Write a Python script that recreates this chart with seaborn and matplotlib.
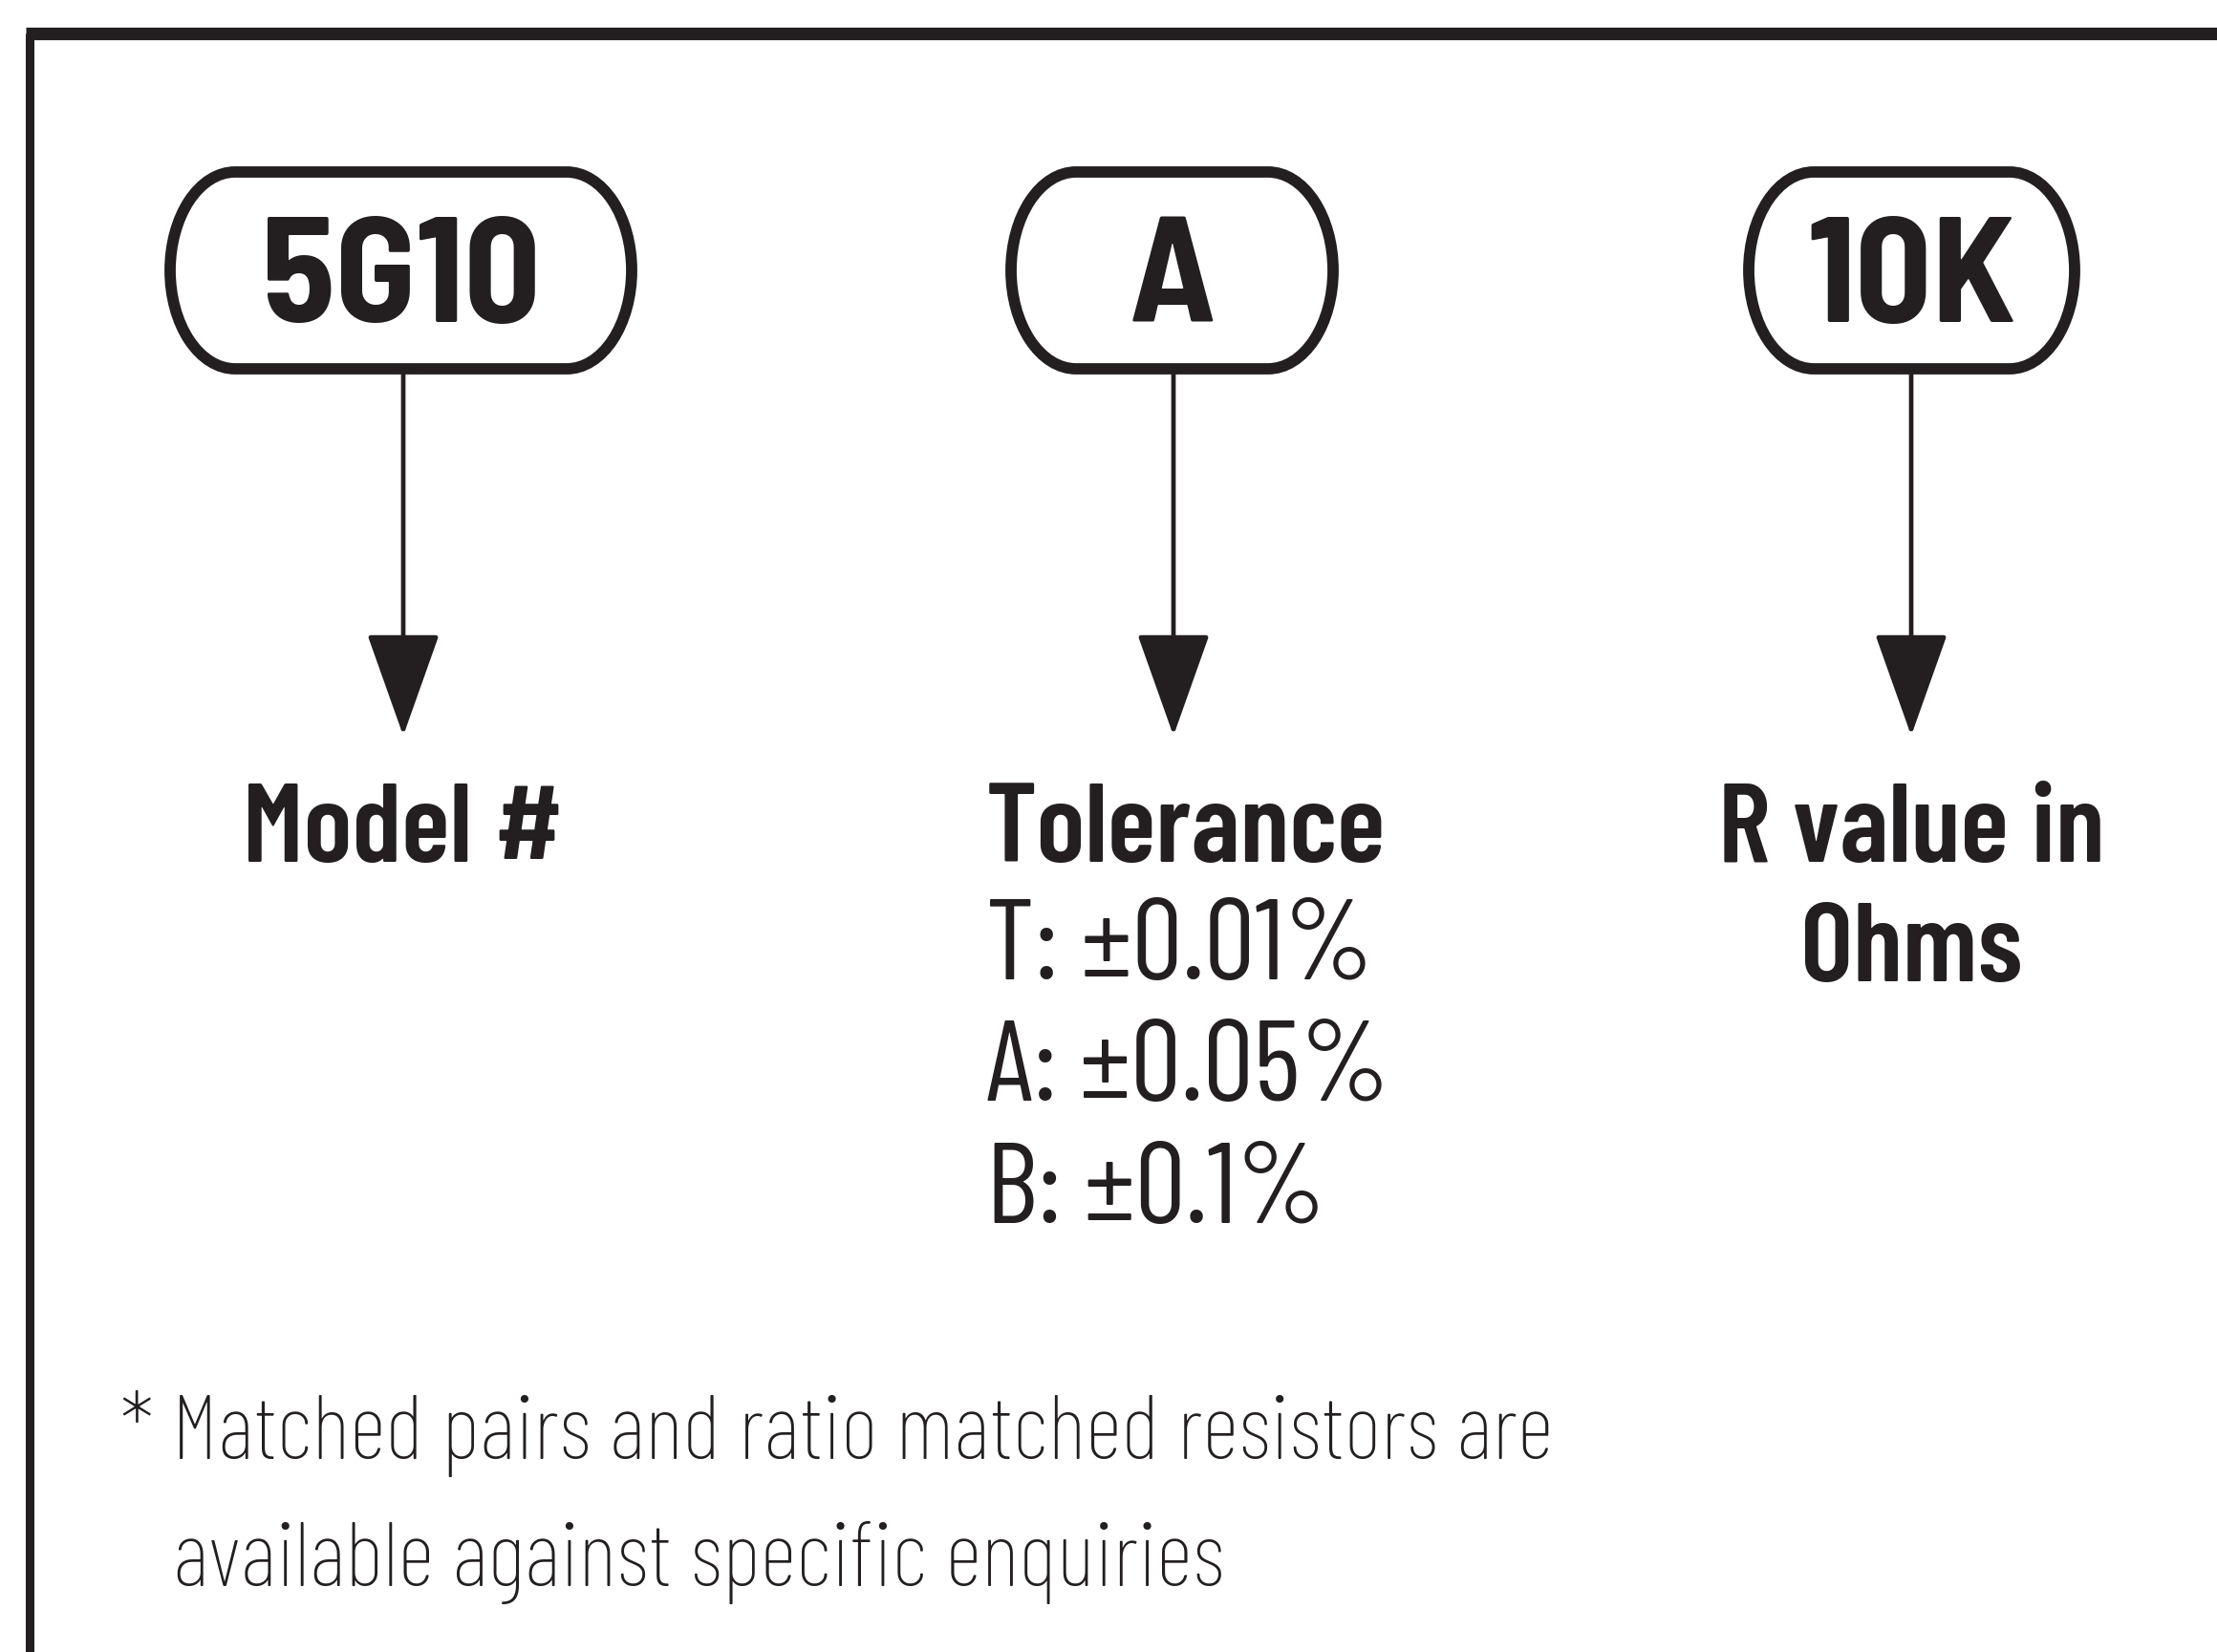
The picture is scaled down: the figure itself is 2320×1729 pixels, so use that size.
import matplotlib
matplotlib.use("Agg")
import matplotlib.pyplot as plt
import seaborn as sns
from matplotlib.path import Path
from matplotlib.patches import PathPatch
from matplotlib.transforms import Affine2D

#%% content of the part-number diagram
codes = ["5G10", "A", "10K"]
headings = [["Model #"], ["Tolerance"], ["R value in", "Ohms"]]
tol_lines = ["T: \u00b10.01%", "A: \u00b10.05%", "B: \u00b10.1%"]
footnote = ["* Matched pairs and ratio matched resistors are",
            "available against specific enquiries"]

#%% layout (pixel coordinates of a 2320x1729 canvas)
W, H = 2320, 1729
box_left = [178, 1058, 1830]
box_right = [661, 1395, 2171]
box_top, box_bot = 180, 386
stem_x = [422, 1228, 2000]
tip_y = 770
ink = "#231f20"

sns.set_theme(style="white")
plt.rcParams["font.family"] = ["Barlow Condensed", "DejaVu Sans"]

fig = plt.figure(figsize=(W / 100, H / 100), dpi=100)
ax = fig.add_axes([0, 0, 1, 1])
ax.set_xlim(0, W)
ax.set_ylim(H, 0)
ax.set_axis_off()

# frame (top and left edges only are visible)
ax.plot([31, 31], [H + 10, 35], color=ink, lw=6.5, solid_capstyle="butt")
ax.plot([27, W + 10], [35, 35], color=ink, lw=9.5, solid_capstyle="butt")


def pill(x0, x1, y0, y1, rx=68):
    # flat top/bottom with half-ellipse ends
    ry = (y1 - y0) / 2
    ym = (y0 + y1) / 2
    right = Path.arc(-90, 90).transformed(Affine2D().scale(rx, ry).translate(x1 - rx, ym))
    left = Path.arc(90, 270).transformed(Affine2D().scale(rx, ry).translate(x0 + rx, ym))
    verts = list(right.vertices) + list(left.vertices) + [right.vertices[0]]
    codes_ = list(right.codes) + [Path.LINETO] + list(left.codes[1:]) + [Path.CLOSEPOLY]
    return Path(verts, codes_)


#%% pills, stems and arrows
for i, code in enumerate(codes):
    x0, x1 = box_left[i], box_right[i]
    ax.add_patch(PathPatch(pill(x0, x1, box_top, box_bot),
                           fc="white", ec=ink, lw=8.5))
    ax.text((x0 + x1) / 2, 337, code, ha="center", va="baseline",
            fontsize=113, fontweight="bold", color=ink,
            family=["Barlow Semi Condensed", "DejaVu Sans"])
    ax.annotate("", xy=(stem_x[i], tip_y), xytext=(stem_x[i], box_bot),
                arrowprops=dict(arrowstyle="-|>,head_length=69,head_width=24.5",
                                mutation_scale=1, lw=3.4, color=ink,
                                shrinkA=0, shrinkB=0))

#%% headings under the arrows
for i, lines in enumerate(headings):
    for j, line in enumerate(lines):
        if i == 1:
            ax.text(1032, 902, line, ha="left", va="baseline",
                    fontsize=85, fontweight="semibold", color=ink)
        else:
            ax.text(stem_x[i], 902 + j * 125, line, ha="center", va="baseline",
                    fontsize=85, fontweight="semibold", color=ink)

tol_base = [1025, 1152, 1280]
for line, yb in zip(tol_lines, tol_base):
    ax.text(1032, yb, line, ha="left", va="baseline", fontsize=86, color=ink)

#%% footnote
ax.text(126, 1527, footnote[0], ha="left", va="baseline", fontsize=69,
        fontweight="light", color=ink)
ax.text(181, 1660, footnote[1], ha="left", va="baseline", fontsize=69,
        fontweight="light", color=ink)

fig.savefig("out.png", dpi=100)
